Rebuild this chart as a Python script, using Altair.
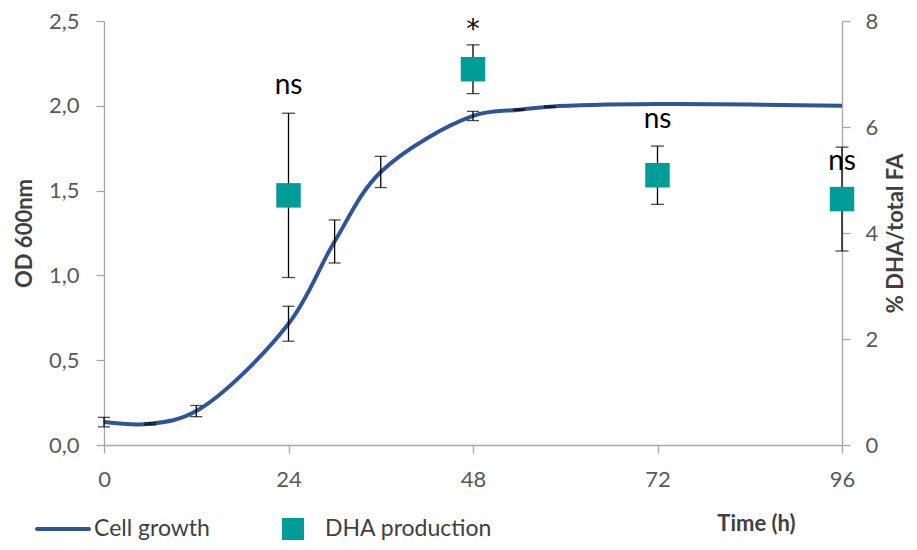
import altair as alt
import pandas as pd

# ---- data ----
time_growth = [0, 6, 12, 24, 30, 36, 48, 54, 58, 72, 96]
od600 = [0.135, 0.125, 0.20, 0.715, 1.20, 1.61, 1.94, 1.977, 1.995, 2.01, 2.00]
od600_sd = [0.028, 0.006, 0.033, 0.103, 0.127, 0.092, 0.027, 0.004, 0.004, None, None]

time_dha = [24, 48, 72, 96]
dha_pct = [4.71, 7.09, 5.09, 4.64]
dha_sd = [1.55, 0.46, 0.55, 0.98]
sig_labels = ["ns", "*", "ns", "ns"]
sig_level = [6.62, 7.68, 5.98, 5.19]

x_ticks = [0, 24, 48, 72, 96]
od_ticks = [0, 0.5, 1.0, 1.5, 2.0, 2.5]
dha_ticks = [0, 2, 4, 6, 8]

legend_labels = ["Cell growth", "DHA production"]

BLUE = "#2F5597"
TEAL = "#009C98"
AXIS_GREY = "#A6A6A6"
LABEL_GREY = "#595959"
TITLE_GREY = "#404040"
FONT = "Lato"

W, H = 738, 424

# ---- tables ----
growth = pd.DataFrame({"t": time_growth, "od": od600, "sd": od600_sd})
gerr = growth.dropna().copy()
gerr["lo"] = gerr["od"] - gerr["sd"]
gerr["hi"] = gerr["od"] + gerr["sd"]
gcaps = pd.concat([gerr[["t", "lo"]].rename(columns={"lo": "cap"}),
                   gerr[["t", "hi"]].rename(columns={"hi": "cap"})])

dha = pd.DataFrame({"t": time_dha, "dha": dha_pct, "sd": dha_sd,
                    "sig": sig_labels, "level": sig_level})
dha["lo"] = dha["dha"] - dha["sd"]
dha["hi"] = dha["dha"] + dha["sd"]
dcaps = pd.concat([dha[["t", "lo"]].rename(columns={"lo": "cap"}),
                   dha[["t", "hi"]].rename(columns={"hi": "cap"})])

# ---- scales / axes ----
x_scale = alt.Scale(domain=[0, 96], nice=False, zero=False)
x_axis = alt.Axis(values=x_ticks, title="Time (h)", grid=False,
                  tickSize=8, labelPadding=16, labelFlush=False,
                  titleX=652, titleY=78, titleBaseline="middle", titleAlign="center")

def X(field="t"):
    return alt.X(f"{field}:Q", scale=x_scale, axis=x_axis)

od_scale = alt.Scale(domain=[0, 2.5], nice=False, zero=True)
od_axis = alt.Axis(orient="left", values=od_ticks, title="OD 600nm", grid=False,
                   tickSize=8, labelPadding=17, labelFlush=False,
                   labelExpr="replace(format(datum.value, '.1f'), '.', ',')",
                   titleAngle=270, titleX=-80, titleY=H / 2,
                   titleBaseline="middle", titleAlign="center")

dha_scale = alt.Scale(domain=[0, 8], nice=False, zero=True)
dha_axis = alt.Axis(orient="right", values=dha_ticks, title="% DHA/total FA", grid=False,
                    tickSize=8, labelPadding=15, format="d", labelFlush=False,
                    titleAngle=270, titleX=53, titleY=H / 2,
                    titleBaseline="middle", titleAlign="center")

# ---- left (OD) layers ----
line = alt.Chart(growth).mark_line(color=BLUE, strokeWidth=4,
                                   interpolate="catmull-rom").encode(
    x=X(), y=alt.Y("od:Q", scale=od_scale, axis=od_axis))

g_rule = alt.Chart(gerr).mark_rule(color="black", strokeWidth=1.3).encode(
    x=X(), y=alt.Y("lo:Q", scale=od_scale, axis=od_axis), y2="hi:Q")

g_cap = alt.Chart(gcaps).mark_tick(color="black", thickness=1.3, size=12,
                                   orient="horizontal").encode(
    x=X(), y=alt.Y("cap:Q", scale=od_scale, axis=od_axis))

left = alt.layer(line, g_rule, g_cap)

# ---- right (DHA) layers ----
d_rule = alt.Chart(dha).mark_rule(color="black", strokeWidth=1.3).encode(
    x=X(), y=alt.Y("lo:Q", scale=dha_scale, axis=dha_axis), y2="hi:Q")

d_cap = alt.Chart(dcaps).mark_tick(color="black", thickness=1.3, size=13,
                                   orient="horizontal").encode(
    x=X(), y=alt.Y("cap:Q", scale=dha_scale, axis=dha_axis))

d_pts = alt.Chart(dha).mark_square(color=TEAL, opacity=1, size=600).encode(
    x=X(), y=alt.Y("dha:Q", scale=dha_scale, axis=dha_axis))

d_ns = alt.Chart(dha).transform_filter(alt.datum.sig == "ns").mark_text(
    font=FONT, fontSize=28, color="black", baseline="alphabetic", align="center").encode(
    x=X(), y=alt.Y("level:Q", scale=dha_scale, axis=dha_axis), text="sig:N")

d_star = alt.Chart(dha).transform_filter(alt.datum.sig == "*").mark_text(
    font="DejaVu Sans", fontSize=27, color="black", baseline="alphabetic", align="center").encode(
    x=X(), y=alt.Y("level:Q", scale=dha_scale, axis=dha_axis), text="sig:N")

right = alt.layer(d_rule, d_cap, d_pts, d_ns, d_star)

# ---- manual legend below the plot ----
leg_df = pd.DataFrame({"label": legend_labels})
LEG_Y = 508
leg_line = alt.Chart(leg_df.iloc[[0]]).mark_rule(color=BLUE, strokeWidth=4,
                                                 strokeCap="round").encode(
    x=alt.value(-67), x2=alt.value(-15), y=alt.value(LEG_Y))
leg_sq = alt.Chart(leg_df.iloc[[1]]).mark_square(color=TEAL, opacity=1, size=484).encode(
    x=alt.value(189), y=alt.value(LEG_Y))
leg_t1 = alt.Chart(leg_df.iloc[[0]]).mark_text(
    font=FONT, fontSize=23, color=TITLE_GREY, align="left", baseline="middle").encode(
    x=alt.value(-10), y=alt.value(LEG_Y), text="label:N")
leg_t2 = alt.Chart(leg_df.iloc[[1]]).mark_text(
    font=FONT, fontSize=23, color=TITLE_GREY, align="left", baseline="middle").encode(
    x=alt.value(221), y=alt.value(LEG_Y), text="label:N")

chart = alt.layer(left, right, leg_line, leg_sq, leg_t1, leg_t2).resolve_scale(
    y="independent"
).properties(
    width=W, height=H,
    autosize=alt.AutoSizeParams(type="none"),
    padding={"left": 96, "top": 13, "right": 67, "bottom": 97},
).configure_view(stroke=None).configure_axis(
    domainColor=AXIS_GREY, domainWidth=1.3, tickColor=AXIS_GREY, tickWidth=1.3,
    labelFont=FONT, labelFontSize=22, labelColor=LABEL_GREY,
    titleFont=FONT, titleFontSize=22, titleFontWeight="bold", titleColor=TITLE_GREY,
)

chart.save("out.html", embed_options={"renderer": "svg", "actions": False})
